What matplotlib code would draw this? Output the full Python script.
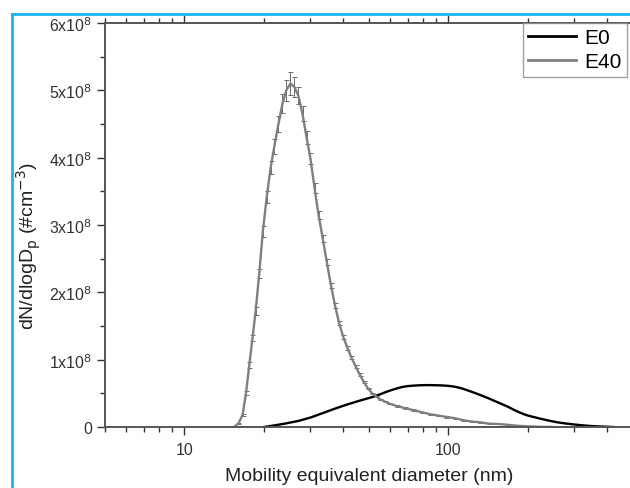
import numpy as np
import matplotlib
matplotlib.use('Agg')
import matplotlib.pyplot as plt
from matplotlib.lines import Line2D
from matplotlib.ticker import LogLocator, NullFormatter, FixedLocator, FixedFormatter

plt.rcParams['font.family'] = ['Liberation Sans', 'DejaVu Sans']

# E40 size distribution (nm, x1e8 #/cm3)
d_e40 = [15.4, 16.0, 16.6, 17.1, 17.6, 18.1, 18.6, 19.2, 19.8, 20.5, 21.2, 21.9,
         22.7, 23.5, 24.3, 25.2, 26.1, 27.0, 28.0, 29.0, 30.0, 31.1, 32.2, 33.4,
         34.6, 35.9, 37.2, 38.5, 40.0, 41.4, 42.9, 44.5, 46.1, 47.8, 49.6, 51.4,
         53.3, 55.2, 57.3, 59.4, 63.8, 68.5, 73.7, 79.1, 85.1, 91.4, 98.2, 106,
         114, 123, 132, 142, 153, 166, 180, 200, 222, 250]
n_e40 = [0.0, 0.05, 0.18, 0.50, 0.92, 1.32, 1.72, 2.28, 2.90, 3.42, 3.85, 4.17,
         4.50, 4.80, 5.00, 5.10, 5.05, 4.92, 4.65, 4.30, 3.99, 3.55, 3.15, 2.80,
         2.45, 2.10, 1.80, 1.55, 1.33, 1.18, 1.03, 0.90, 0.78, 0.67, 0.57, 0.50,
         0.45, 0.41, 0.38, 0.35, 0.31, 0.28, 0.25, 0.22, 0.19, 0.17, 0.15, 0.13,
         0.10, 0.08, 0.07, 0.05, 0.045, 0.035, 0.02, 0.01, 0.003, 0.0]
err_e40 = [0.0, 0.01, 0.02, 0.03, 0.04, 0.05, 0.06, 0.07, 0.08, 0.09, 0.10, 0.11,
           0.12, 0.14, 0.16, 0.17, 0.15, 0.13, 0.11, 0.09, 0.08, 0.07, 0.06, 0.05,
           0.05, 0.04, 0.04, 0.03, 0.03, 0.03, 0.02, 0.02, 0.02, 0.02, 0.01, 0.01,
           0.01, 0.01, 0.01, 0.01, 0.01, 0.01, 0.01, 0.01, 0.01, 0.01, 0.01, 0.01,
           0.01, 0.01, 0.01, 0.01, 0.0, 0.0, 0.0, 0.0, 0.0, 0.0]

# E0 size distribution
d_e0 = [20, 21.6, 24, 27, 30, 33.6, 37, 41, 46, 52, 55, 58, 61, 64, 67, 70, 74,
        78, 82, 86, 90, 95, 99, 103, 108, 112, 117, 123, 128, 133, 143, 155, 166,
        172, 178, 185, 193, 200, 207, 222, 240, 258, 278, 300, 322, 345, 380, 420]
n_e0 = [0.0, 0.02, 0.05, 0.09, 0.14, 0.21, 0.27, 0.33, 0.39, 0.45, 0.485, 0.52,
        0.55, 0.575, 0.595, 0.607, 0.615, 0.62, 0.622, 0.622, 0.62, 0.617, 0.612,
        0.605, 0.59, 0.575, 0.55, 0.52, 0.495, 0.47, 0.42, 0.36, 0.31, 0.28,
        0.25, 0.22, 0.19, 0.17, 0.155, 0.125, 0.095, 0.07, 0.052, 0.037, 0.025,
        0.015, 0.007, 0.0]

ytick_vals = [0, 1, 2, 3, 4, 5, 6]
ytick_text = ['0'] + [r'%dx10$^{8}$' % v for v in ytick_vals[1:]]

fig = plt.figure(figsize=(6.3, 4.89), dpi=100)
ax = fig.add_axes([105 / 630, 61 / 489, 528 / 630, 404 / 489])

scale = 1e8
ax.plot(d_e0, np.array(n_e0) * scale, color='black', lw=1.7)
ax.errorbar(d_e40, np.array(n_e40) * scale, yerr=np.array(err_e40) * scale,
            color='#7f7f7f', lw=1.7, elinewidth=0.7, capsize=1.8, capthick=0.7,
            ecolor='#6a6a6a')

ax.set_xscale('log')
ax.set_xlim(5, 500)
ax.set_ylim(0, 6e8)

ax.xaxis.set_major_locator(FixedLocator([10, 100]))
ax.xaxis.set_major_formatter(FixedFormatter(['10', '100']))
ax.xaxis.set_minor_locator(LogLocator(base=10, subs=np.arange(2, 10)))
ax.xaxis.set_minor_formatter(NullFormatter())
ax.set_yticks([v * scale for v in ytick_vals])
ax.set_yticklabels(ytick_text)
ax.set_yticks([(v + 0.5) * scale for v in ytick_vals[:-1]], minor=True)

ax.tick_params(which='both', direction='out', top=True, right=False,
               labelsize=11.5, colors='#333333', width=1.0)
ax.tick_params(which='major', length=6)
ax.tick_params(which='minor', length=3.5)
ax.tick_params(axis='x', pad=5)
for side in ['left', 'bottom', 'top', 'right']:
    ax.spines[side].set_color('#555555')
    ax.spines[side].set_linewidth(1.4)

ax.set_xlabel('Mobility equivalent diameter (nm)', fontsize=14, color='#222222',
              labelpad=7)
ax.set_ylabel(r'dN/dlogD$_{\rm p}$ (#cm$^{-3}$)', fontsize=14, color='#222222')
ax.yaxis.set_label_coords(-0.118, 0.45)

handles = [Line2D([], [], color='black', lw=2),
           Line2D([], [], color='#7f7f7f', lw=2)]
leg = ax.legend(handles, ['E0', 'E40'], loc='upper right',
                bbox_to_anchor=(627 / 630, 465 / 489),
                bbox_transform=fig.transFigure, fontsize=15, frameon=True,
                fancybox=False, borderaxespad=0, handlelength=2.3,
                handletextpad=0.4, borderpad=0.25, labelspacing=0.25)
leg.get_frame().set_edgecolor('#888888')
leg.get_frame().set_linewidth(1.0)

# cyan frame of the original figure
fig.add_artist(Line2D([12 / 630, 12 / 630], [0, 474 / 489], color='#19b4ee',
                      lw=2, transform=fig.transFigure))
fig.add_artist(Line2D([12 / 630, 1], [474 / 489, 474 / 489], color='#19b4ee',
                      lw=2, transform=fig.transFigure))

fig.savefig('out.png', dpi=100)
